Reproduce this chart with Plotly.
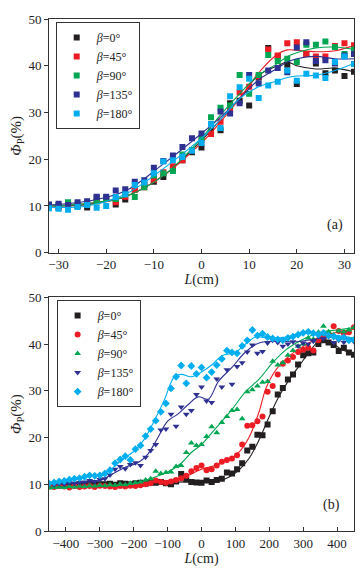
import plotly.graph_objects as go
from plotly.subplots import make_subplots

BETAS = ["0", "45", "90", "135", "180"]
COLORS = ["#231f20", "#ed1c24", "#00a651", "#2e3192", "#00aeef"]

# panel (a): measured points every 2 cm
L_A = list(range(-32, 33, 2))
PHI_A = [
    [10.0, 9.6, 10.5, 10.0, 9.7, 11.8, 11.5, 10.3, 11.4, 13.5, 14.5, 15.2, 16.2, 18.0, 19.8, 21.5, 22.5,
     26.0, 26.2, 32.0, 32.5, 31.5, 37.5, 43.8, 42.0, 40.2, 36.1, 42.5, 40.5, 38.4, 39.0, 37.8, 38.7],
    [10.0, 10.0, 10.3, 10.0, 10.5, 11.0, 11.5, 10.8, 12.0, 13.5, 14.0, 15.6, 17.2, 18.5, 19.8, 22.0, 24.0,
     25.4, 28.0, 30.5, 34.3, 35.5, 37.7, 43.5, 42.2, 44.8, 45.0, 42.5, 42.0, 42.0, 44.2, 44.8, 44.4],
    [10.0, 10.2, 10.8, 10.2, 10.5, 11.0, 11.7, 11.5, 12.5, 11.9, 14.0, 16.5, 17.0, 17.5, 21.0, 22.0, 24.5,
     29.0, 31.0, 31.5, 38.0, 34.0, 38.0, 42.3, 41.0, 41.5, 40.8, 44.5, 44.5, 45.2, 44.0, 42.5, 43.5],
    [10.3, 10.5, 10.2, 10.8, 11.0, 12.0, 12.0, 13.3, 13.6, 15.2, 15.5, 18.2, 19.6, 20.8, 22.6, 24.5, 25.5,
     27.5, 30.2, 29.8, 32.0, 38.0, 36.2, 39.0, 39.5, 38.6, 43.9, 45.0, 41.0, 41.2, 40.5, 42.2, 42.5],
    [9.5, 9.4, 9.2, 9.8, 10.2, 9.6, 10.0, 11.9, 12.5, 14.5, 15.0, 17.0, 19.5, 19.8, 20.5, 21.8, 23.5,
     27.5, 26.7, 33.5, 35.4, 37.2, 33.1, 35.8, 36.6, 39.0, 36.8, 38.3, 37.9, 37.4, 40.8, 42.0, 40.4],
]
# panel (a): fitted curves
FIT_L_A = [-32, -24, -16, -8, 0, 4, 8, 12, 16, 18, 20, 24, 28, 32]
FIT_A = [
    [10.0, 10.3, 12.0, 16.5, 24.0, 28.5, 33.0, 38.0, 40.0, 40.8, 40.0, 39.3, 39.5, 38.7],
    [10.0, 10.5, 12.0, 16.5, 23.5, 28.0, 33.0, 38.5, 42.5, 43.4, 43.3, 43.0, 43.2, 44.3],
    [10.0, 10.5, 12.0, 16.5, 24.5, 29.5, 34.0, 38.0, 40.5, 42.0, 42.8, 43.8, 44.0, 43.5],
    [10.2, 11.0, 13.2, 19.0, 25.5, 29.0, 33.0, 37.0, 39.5, 40.8, 41.5, 42.0, 41.5, 41.5],
    [9.7, 10.0, 12.5, 18.0, 24.5, 28.5, 33.0, 35.5, 36.8, 37.5, 37.8, 38.0, 39.0, 40.5],
]

# panel (b): measured points every 15 cm
L_B = list(range(-450, 451, 15))
PHI_B = [
    [9.6, 9.7, 9.8, 9.9, 9.7, 9.8, 10.0, 9.9, 10.1, 9.9, 10.0,
     10.0, 10.1, 9.9, 10.2, 10.1, 10.0, 10.2, 10.3, 10.1, 10.4,
     10.3, 10.5, 10.2, 10.0, 10.6, 12.2, 11.0, 10.5, 10.4, 10.3,
     10.8, 10.5, 10.9, 11.2, 12.5, 12.3, 13.2, 14.5, 17.2, 18.0,
     20.6, 20.5, 22.8, 25.6, 29.2, 30.6, 32.4, 33.5, 35.6, 37.6,
     38.0, 38.2, 40.0, 40.8, 40.3, 39.8, 38.5, 39.2, 38.2, 37.7],
    [9.5, 9.4, 9.6, 9.5, 9.3, 9.6, 9.4, 9.5, 9.6, 9.4, 9.7,
     9.6, 9.5, 9.4, 9.6, 9.5, 9.7, 9.6, 9.8, 10.0, 10.2,
     10.8, 10.5, 10.3, 10.6, 10.9, 11.3, 11.8, 12.8, 13.5, 14.0,
     13.0, 13.2, 14.0, 14.8, 15.2, 15.5, 16.2, 18.5, 22.5, 22.6,
     23.5, 24.5, 29.8, 31.0, 33.5, 35.8, 36.5, 37.2, 38.3, 38.8,
     39.2, 38.6, 40.8, 41.5, 42.0, 43.8, 42.8, 42.3, 42.5, 43.6],
    [9.2, 9.3, 9.4, 9.3, 9.5, 9.4, 9.6, 9.5, 9.7, 9.6, 9.8,
     9.7, 9.9, 9.8, 10.0, 9.9, 10.2, 10.3, 10.5, 10.9, 11.2,
     12.8, 12.3, 12.5, 12.6, 13.8, 14.0, 16.8, 18.8, 18.3, 18.5,
     20.2, 22.3, 21.0, 23.2, 24.5, 25.8, 26.0, 24.0, 29.8, 30.2,
     31.0, 31.8, 32.0, 36.3, 35.5, 36.0, 37.6, 38.6, 39.5, 40.0,
     41.3, 41.0, 42.5, 43.8, 42.6, 42.0, 42.8, 42.6, 43.0, 43.5],
    [10.0, 9.9, 10.1, 10.0, 10.3, 10.2, 10.4, 10.5, 10.8, 10.6, 11.0,
     11.2, 12.0, 13.2, 13.8, 13.3, 14.2, 14.6, 14.0, 15.8, 17.2,
     18.5, 21.6, 21.8, 25.0, 22.4, 26.5, 25.0, 25.8, 29.2, 30.8,
     27.8, 27.5, 32.5, 30.8, 34.5, 31.4, 35.2, 36.0, 38.3, 39.8,
     38.0, 38.4, 40.2, 40.8, 40.3, 39.5, 40.0, 40.5, 39.6, 40.2,
     40.0, 40.6, 41.8, 41.2, 41.6, 40.3, 40.8, 40.4, 40.9, 40.5],
    [10.2, 10.4, 10.6, 10.7, 11.0, 11.2, 11.3, 11.6, 11.9, 11.8, 11.9,
     12.3, 13.0, 14.5, 15.3, 16.0, 15.2, 17.5, 18.3, 20.3, 21.8,
     23.6, 25.5, 27.3, 30.5, 33.0, 35.4, 31.6, 35.3, 33.6, 35.0,
     32.8, 34.0, 35.5, 36.8, 38.6, 38.2, 38.0, 39.6, 40.8, 43.0,
     41.8, 42.2, 41.5, 41.2, 41.0, 40.8, 41.3, 41.6, 42.0, 42.4,
     42.6, 42.3, 42.0, 42.4, 41.8, 41.6, 41.2, 41.4, 40.8, 40.9],
]
# panel (b): fitted curves
FIT_L_B = [
    [-450, -300, -150, -50, 0, 50, 80, 110, 140, 170, 200, 230, 260, 290, 320, 350, 380, 410, 450],
    [-450, -300, -200, -130, -100, -60, -30, 0, 40, 80, 110, 140, 170, 190, 220, 260, 300, 350, 400, 450],
    [-450, -300, -200, -150, -100, -60, -30, 0, 40, 90, 130, 170, 210, 250, 300, 350, 400, 450],
    [-450, -350, -300, -260, -220, -190, -160, -130, -100, -70, -40, -10, 20, 50, 90, 130, 170, 220, 280, 330,
     390, 450],
    [-450, -400, -350, -300, -270, -240, -200, -170, -140, -110, -80, -60, -30, 0, 30, 60, 100, 130, 160, 200,
     250, 300, 350, 450],
]
FIT_B = [
    [9.8, 9.9, 10.2, 10.5, 10.5, 10.7, 11.5, 13.0, 15.5, 19.5, 24.5, 29.0, 32.5, 35.5, 38.5, 40.8, 40.5, 39.0, 37.8],
    [9.5, 9.6, 9.8, 10.8, 10.5, 11.2, 12.2, 13.2, 14.0, 15.2, 16.8, 20.0, 25.5, 30.5, 34.5, 37.5, 39.5, 41.5, 42.5,
     43.2],
    [9.4, 9.6, 10.1, 11.2, 12.6, 14.5, 16.8, 18.5, 21.8, 26.0, 29.8, 32.5, 36.0, 38.8, 41.0, 42.5, 43.0, 43.5],
    [10.0, 10.3, 10.8, 12.3, 13.8, 14.5, 16.3, 19.8, 23.5, 25.0, 27.0, 28.7, 28.2, 32.0, 35.0, 38.3, 40.2, 40.6,
     40.5, 41.0, 41.5, 41.0],
    [10.0, 10.8, 11.5, 12.0, 13.0, 15.0, 17.0, 19.5, 23.5, 28.0, 33.0, 33.5, 33.0, 34.0, 35.5, 37.5, 38.2, 40.0,
     41.5, 41.2, 41.5, 42.5, 42.3, 41.3],
]
SYMBOLS_B = ["square", "circle", "triangle-up", "triangle-down", "diamond"]

FONT = "Liberation Serif"

fig = make_subplots(rows=2, cols=1, vertical_spacing=0.087)

for i, beta in enumerate(BETAS):
    name = f"<i>β</i>={beta}°"
    fig.add_trace(go.Scatter(x=FIT_L_A, y=FIT_A[i], mode="lines", line_shape="spline",
                             line={"color": COLORS[i], "width": 1.1}, showlegend=False), row=1, col=1)
    fig.add_trace(go.Scatter(x=L_A, y=PHI_A[i], mode="markers", name=name, legend="legend",
                             marker={"symbol": "square", "size": 6, "color": COLORS[i]}), row=1, col=1)

for i, beta in enumerate(BETAS):
    name = f"<i>β</i>={beta}°"
    fig.add_trace(go.Scatter(x=FIT_L_B[i], y=FIT_B[i], mode="lines", line_shape="spline",
                             line={"color": COLORS[i], "width": 1.1}, showlegend=False), row=2, col=1)
    fig.add_trace(go.Scatter(x=L_B, y=PHI_B[i], mode="markers", name=name, legend="legend2",
                             marker={"symbol": SYMBOLS_B[i], "size": 6, "color": COLORS[i]}), row=2, col=1)

axis_style = dict(showline=True, linecolor="#333", linewidth=1, mirror=True, ticklen=4,
                  tickcolor="#333", showgrid=False, zeroline=False,
                  tickfont={"family": FONT, "size": 13, "color": "#222"})
ytitle = {"text": "<i>Φ</i><sub>P</sub>(%)", "font": {"family": FONT, "size": 15, "color": "#222"},
          "standoff": 3}
xtitle = {"text": "<i>L</i>(cm)", "font": {"family": FONT, "size": 14, "color": "#222"}, "standoff": 2}

fig.update_xaxes(axis_style, ticks="inside")
fig.update_yaxes(axis_style, ticks="outside")
fig.update_xaxes(range=[-32, 32], dtick=10, title=xtitle, row=1, col=1)
fig.update_xaxes(range=[-450, 450], dtick=100, title=xtitle, row=2, col=1)
fig.update_yaxes(range=[0, 50], dtick=10, title=ytitle, row=1, col=1)
fig.update_yaxes(range=[0, 50], dtick=10, title=ytitle, row=2, col=1)

legend_style = dict(bordercolor="#333", borderwidth=1, bgcolor="white", xanchor="left", yanchor="top",
                    font={"family": FONT, "size": 12, "color": "#222"}, tracegroupgap=0, itemwidth=30)
# the page body adds an 8 px offset, so the figure is 8 px smaller with 8 px less left/top margin
fig.update_layout(
    width=355, height=565,
    margin={"l": 41, "r": 9, "t": 4, "b": 42},
    paper_bgcolor="white", plot_bgcolor="white",
    legend=dict(legend_style, x=0.022, y=0.994),
    legend2=dict(legend_style, x=0.025, y=0.451),
    annotations=[
        dict(text="(a)", x=28, y=6, xref="x", yref="y", showarrow=False,
             font={"family": FONT, "size": 14, "color": "#222"}),
        dict(text="(b)", x=385, y=5.5, xref="x2", yref="y2", showarrow=False,
             font={"family": FONT, "size": 14, "color": "#222"}),
    ],
)

fig.write_html("out.html")
